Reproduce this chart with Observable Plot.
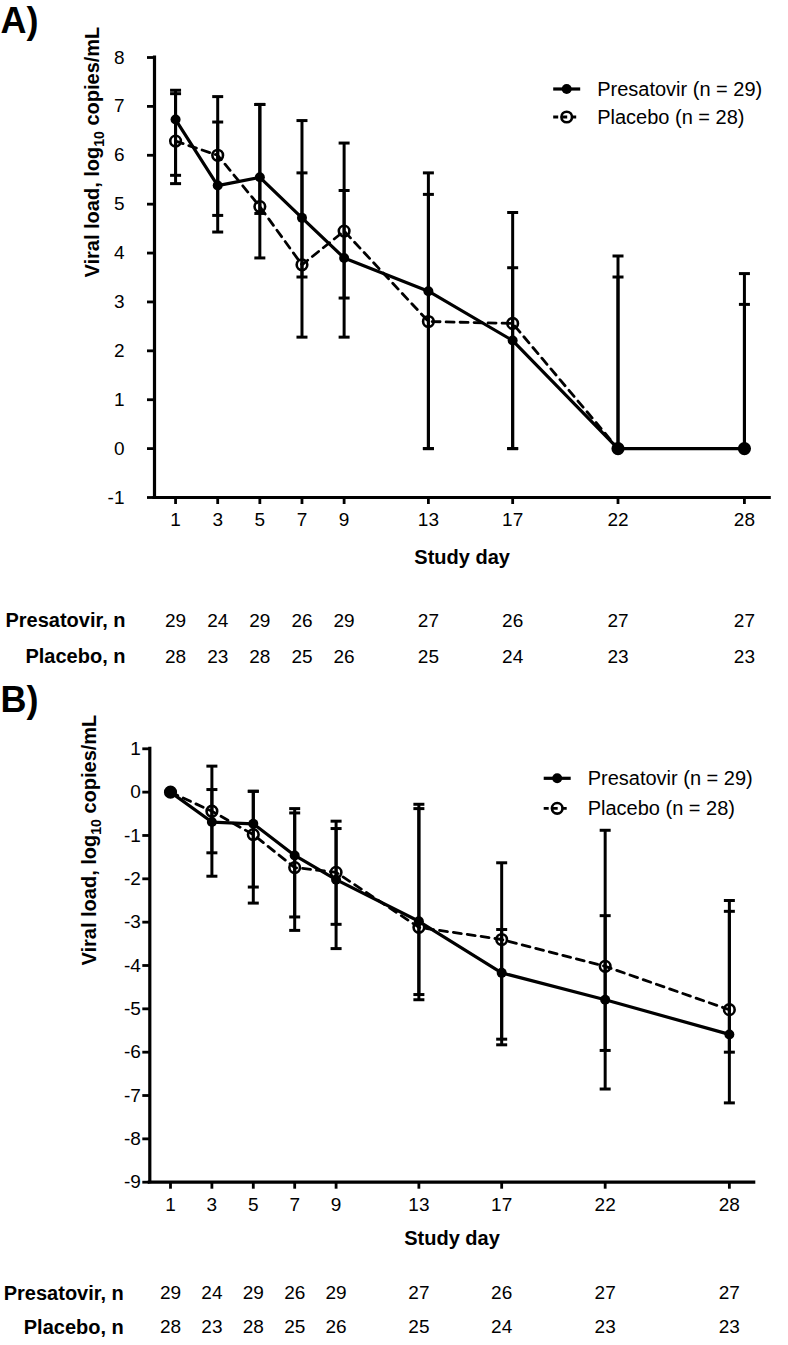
<!DOCTYPE html>
<html><head><meta charset="utf-8">
<script src="https://cdn.jsdelivr.net/npm/d3@7"></script>
<script src="https://cdn.jsdelivr.net/npm/@observablehq/plot@0.6"></script>
<style>
body{margin:0;background:#fff;}
#chart{width:788px;}
#chart svg{display:block;}
</style></head><body><div id="chart"></div>
<script>
// ---------- data ----------
const days = [1, 3, 5, 7, 9, 13, 17, 22, 28];
// Panel A: viral load (log10 copies/mL)
const presA    = [6.73, 5.38, 5.55, 4.72, 3.90, 3.22, 2.21, 0, 0];
const presA_lo = [5.59, 4.43, 4.81, 3.51, 2.28, 0, 0, 0, 0];
const presA_hi = [7.26, 6.68, 7.04, 6.71, 5.28, 5.64, 3.70, 3.51, 2.95];
const placA    = [6.29, 6.00, 4.95, 3.76, 4.45, 2.60, 2.56, 0, 0];
const placA_lo = [5.42, 4.77, 3.90, 2.28, 3.08, 0, 0, 0, 0];
const placA_hi = [7.33, 7.20, 7.04, 5.64, 6.25, 5.20, 4.83, 3.94, 3.58];
// Panel B: change in viral load
const presB    = [0, -0.69, -0.73, -1.46, -2.02, -2.98, -4.17, -4.79, -5.59];
const presB_lo = [0, -1.94, -2.19, -2.88, -3.61, -4.67, -5.83, -6.85, -7.17];
const presB_hi = [0, 0.06, 0.02, -0.48, -0.67, -0.28, -3.17, -2.85, -2.75];
const placB    = [0, -0.44, -0.98, -1.74, -1.85, -3.12, -3.40, -4.02, -5.02];
const placB_lo = [0, -1.40, -2.56, -3.19, -3.05, -4.79, -5.70, -5.96, -6.00];
const placB_hi = [0, 0.60, 0.02, -0.38, -0.84, -0.38, -1.63, -0.88, -2.50];
// numbers at risk
const nPres = [29, 24, 29, 26, 29, 27, 26, 27, 27];
const nPlac = [28, 23, 28, 25, 26, 25, 24, 23, 23];
const seriesNames = ["Presatovir (n = 29)", "Placebo (n = 28)"];
const rowLabels = ["Presatovir, n", "Placebo, n"];
const yTicksA = [-1, 0, 1, 2, 3, 4, 5, 6, 7, 8];
const yTicksB = [-9, -8, -7, -6, -5, -4, -3, -2, -1, 0, 1];
const yTitle = "Viral load, log10 copies/mL";
const xTitle = "Study day";

const FONT = "'Liberation Sans', Arial, Helvetica, sans-serif";
const capSymbol = {draw(ctx, size) { const w = Math.sqrt(size / Math.PI); ctx.moveTo(-w, 0); ctx.lineTo(w, 0); }};

function rows(mean, lo, hi) {
  return days.map((d, i) => ({day: d, v: mean[i], lo: lo[i], hi: hi[i]}));
}

function panel(cfg) {
  const pres = rows(cfg.pres, cfg.presLo, cfg.presHi);
  const plac = rows(cfg.plac, cfg.placLo, cfg.placHi);
  const caps = [...pres, ...plac].flatMap(d => [{day: d.day, y: d.lo}, {day: d.day, y: d.hi}]);
  const xDomain = [0, 29.2];
  const plot = Plot.plot({
    width: 788,
    height: cfg.height,
    marginLeft: cfg.ml, marginRight: cfg.mr, marginTop: cfg.mt, marginBottom: cfg.mb,
    style: {fontFamily: FONT, fontSize: "19px", color: "black", background: "white", overflow: "visible"},
    x: {domain: xDomain},
    y: {domain: cfg.yDomain},
    marks: [
      Plot.axisX({ticks: days, tickSize: 7, tickPadding: cfg.xPad, strokeWidth: 2.8, fontSize: 19, label: null, tickFormat: d => String(d)}),
      Plot.axisY({ticks: cfg.yTicks, tickSize: 7, tickPadding: cfg.yPad, strokeWidth: 2.8, fontSize: 19, label: null, tickFormat: d => String(d)}),
      Plot.ruleX([xDomain[0]], {stroke: "black", strokeWidth: 3.2, strokeLinecap: "square"}),
      Plot.ruleY([cfg.yDomain[0]], {stroke: "black", strokeWidth: 3.2, strokeLinecap: "square"}),
      Plot.ruleX([...pres, ...plac], {x: "day", y1: "lo", y2: "hi", stroke: "black", strokeWidth: 3}),
      Plot.dot(caps, {x: "day", y: "y", symbol: capSymbol, r: 5.5, stroke: "black", strokeWidth: 3, fill: "none"}),
      Plot.line(plac, {x: "day", y: "v", stroke: "black", strokeWidth: 2.8, strokeDasharray: "8,6"}),
      Plot.line(pres, {x: "day", y: "v", stroke: "black", strokeWidth: 3.2}),
      Plot.dot(plac, {x: "day", y: "v", r: 5.3, stroke: "black", strokeWidth: 2.6, fill: "none"}),
      Plot.dot(pres, {x: "day", y: "v", r: 5, fill: "black", stroke: "none"}),
      // titles
      Plot.text([cfg.tag], {frameAnchor: "top-left", lineAnchor: "middle", dx: -cfg.ml, dy: cfg.tagDy, textAnchor: "start", fontWeight: "bold", fontSize: 36}),
      Plot.text([yTitle], {frameAnchor: "left", rotate: -90, dx: cfg.yTitleDx, fontWeight: "bold", fontSize: 20}),
      Plot.text([xTitle], {frameAnchor: "bottom", lineAnchor: "middle", dy: cfg.xTitleDy, fontWeight: "bold", fontSize: 20}),
      // n table
      Plot.text(days, {x: d => d, text: (d, i) => String(nPres[i]), frameAnchor: "bottom", lineAnchor: "middle", dy: cfg.row1, fontSize: 19}),
      Plot.text(days, {x: d => d, text: (d, i) => String(nPlac[i]), frameAnchor: "bottom", lineAnchor: "middle", dy: cfg.row2, fontSize: 19}),
      Plot.text([rowLabels[0]], {frameAnchor: "bottom-left", lineAnchor: "middle", dx: cfg.rowDx, dy: cfg.row1, textAnchor: "end", fontWeight: "bold", fontSize: 20}),
      Plot.text([rowLabels[1]], {frameAnchor: "bottom-left", lineAnchor: "middle", dx: cfg.rowDx, dy: cfg.row2, textAnchor: "end", fontWeight: "bold", fontSize: 20})
    ]
  });
  // subscript in y title
  d3.select(plot).selectAll("text").filter(function() { return this.textContent === yTitle; }).each(function() {
    const t = d3.select(this);
    t.text(null);
    t.append("tspan").text("Viral load, log");
    t.append("tspan").attr("font-size", 14).attr("dy", 5).text("10");
    t.append("tspan").attr("dy", -5).text(" copies/mL");
  });
  // legend
  const right = 788 - cfg.mr;
  const g = d3.select(plot).append("g").attr("font-family", FONT).attr("font-size", 20).attr("text-anchor", "start");
  seriesNames.forEach((name, i) => {
    const y = cfg.mt + cfg.legDy[i];
    const x0 = right + cfg.legDx;
    const dashed = i === 1;
    g.append("line").attr("x1", x0).attr("x2", x0 + 27).attr("y1", y).attr("y2", y)
      .attr("stroke", "black").attr("stroke-width", dashed ? 2.8 : 3.2)
      .attr("stroke-dasharray", dashed ? "5,4" : null);
    if (dashed) {
      g.append("circle").attr("cx", x0 + 13.5).attr("cy", y).attr("r", 5.3).attr("fill", "none").attr("stroke", "black").attr("stroke-width", 2.6);
    } else {
      g.append("circle").attr("cx", x0 + 13.5).attr("cy", y).attr("r", 5).attr("fill", "black");
    }
    g.append("text").attr("x", x0 + 44).attr("y", y).attr("dy", "0.35em").text(name);
  });
  return plot;
}

const chart = document.getElementById("chart");
chart.append(panel({
  tag: "A)", height: 690, ml: 154, mr: 18.8, mt: 57, mb: 193,
  yDomain: [-1, 8], yTicks: yTicksA, yPad: 23, xPad: 8,
  pres: presA, presLo: presA_lo, presHi: presA_hi,
  plac: placA, placLo: placA_lo, placHi: placA_hi,
  tagDy: -36, yTitleDx: -62, xTitleDy: 60, row1: 123, row2: 159, rowDx: -29,
  legDx: -216, legDy: [32, 60]
}));
chart.append(panel({
  tag: "B)", height: 655, ml: 149.3, mr: 34.3, mt: 58.3, mb: 163.3,
  yDomain: [-9, 1], yTicks: yTicksB, yPad: 2, xPad: 8,
  pres: presB, presLo: presB_lo, presHi: presB_hi,
  plac: placB, placLo: placB_lo, placHi: placB_hi,
  tagDy: -48, yTitleDx: -60, xTitleDy: 56, row1: 111, row2: 145, rowDx: -26,
  legDx: -210, legDy: [30, 60]
}));
</script></body></html>
